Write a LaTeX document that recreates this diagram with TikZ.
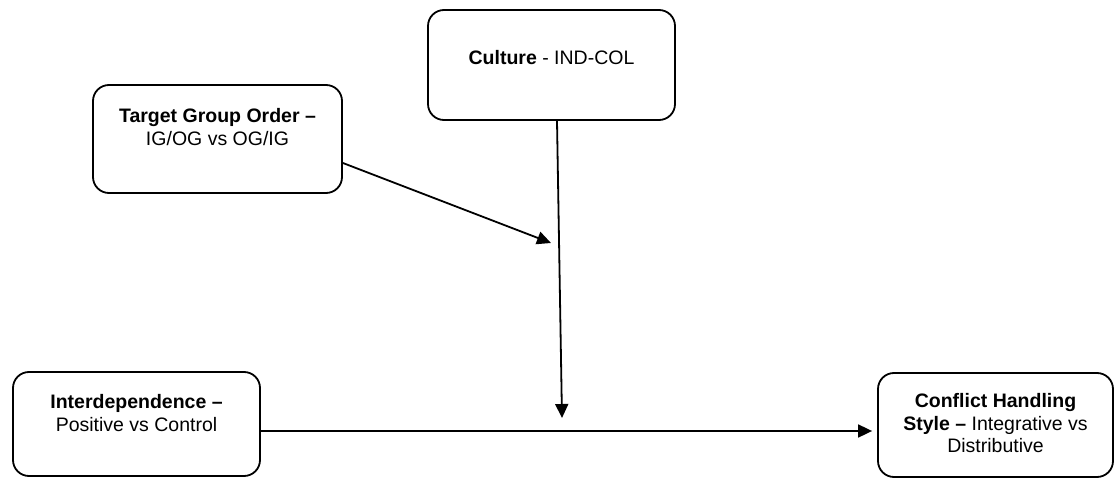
\documentclass[tikz,border=0pt]{standalone}
\usepackage{fontspec}
\setmainfont{Liberation Sans}
\usetikzlibrary{positioning,arrows.meta}

\begin{document}
\begin{tikzpicture}[x=1pt, y=-1pt, node distance=6mm and 12mm,
  every node/.style={font=\fontsize{19.5}{22.5}\selectfont},
  box/.style={draw, line width=1.8pt, rounded corners=16pt, inner sep=0pt},
  txt/.style={anchor=north, align=center, inner sep=0pt},
  arr/.style={line width=1.8pt, -{Triangle[length=14pt,width=13pt]}}]
\useasboundingbox (0,0) rectangle (1116,478);
\node[box, minimum width=247pt, minimum height=110pt] (cult) at (551.5,65) {};
\node[box, minimum width=249pt, minimum height=108pt] (tgo) at (217.5,139) {};
\node[box, minimum width=247pt, minimum height=104pt] (inter) at (136.5,424) {};
\node[box, minimum width=235pt, minimum height=104pt] (conf) at (995.5,425) {};
\node[txt, below=41.5pt of cult.north] (cultT) {\textbf{Culture} - IND-COL};
\node[txt, below=24.5pt of tgo.north] (tgoT) {\textbf{Target Group Order –}\\IG/OG vs OG/IG};
\node[txt, below=23.5pt of inter.north] (interT) {\textbf{Interdependence –}\\Positive vs Control};
\node[txt, below=21.5pt of conf.north] (confT) {\textbf{Conflict Handling}\\\textbf{Style –} Integrative vs\\Distributive};
\coordinate (meet) at (551,243);
\coordinate (hit) at (562,418);
\draw[arr] ([yshift=-24pt]tgo.east) -- (meet);
\draw[arr] ([xshift=5.5pt]cult.south) -- (hit);
\draw[arr] ([yshift=-7pt]inter.east) -- ([xshift=-5pt,yshift=-6pt]conf.west);
\end{tikzpicture}
\end{document}
